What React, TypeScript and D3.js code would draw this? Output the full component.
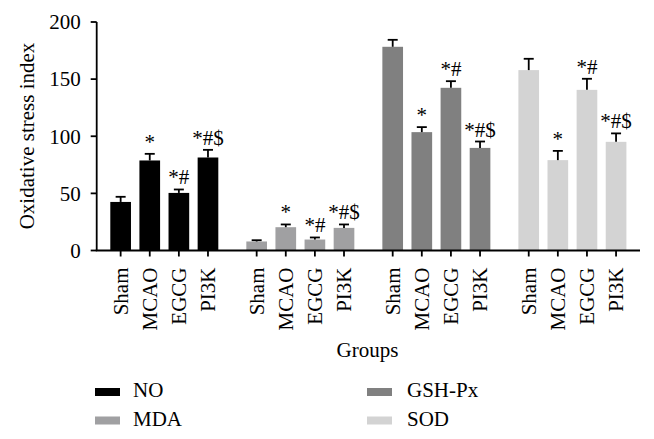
import React from "react";
import * as d3 from "d3";

const groups = ["NO", "MDA", "GSH-Px", "SOD"];
const treatments = ["Sham", "MCAO", "EGCG", "PI3K"];
const colors = ["#000000", "#a0a0a2", "#808080", "#d3d3d3"];
const meanNO = [42.5, 78.8, 50.4, 81.4];
const errNO = [47, 84.6, 53.4, 88.1];
const meanMDA = [7.9, 20.4, 9.6, 19.8];
const errMDA = [9, 22.8, 11.4, 22.8];
const meanGSH = [178.3, 103.6, 142.4, 89.8];
const errGSH = [184.4, 108, 148.2, 95.4];
const meanSOD = [157.9, 79.1, 140.6, 95.1];
const errSOD = [167.8, 87.2, 150.3, 102.5];
const marks = ["", "*", "*#", "*#$"];
const yTicks = [0, 50, 100, 150, 200];

const means = [meanNO, meanMDA, meanGSH, meanSOD];
const errs = [errNO, errMDA, errGSH, errSOD];

const W = 654, H = 439;
const FONT = '"Liberation Serif", "DejaVu Serif", serif';
const ts = { fontFamily: FONT };

export default function App() {
  const x0 = 96.7, x1 = 640;
  const y = d3.scaleLinear().domain([0, 200]).range([250.5, 22]);
  const gx = d3.scaleBand().domain(groups).range([x0, x1]).paddingInner(0.206).paddingOuter(0.1);
  const ix = d3.scaleBand().domain(treatments).range([0, gx.bandwidth()]).paddingInner(0.29).paddingOuter(0);
  const bw = ix.bandwidth();
  const capW = 10;

  return (
    <svg width={W} height={H} style={{ position: "absolute", left: 0, top: 0, background: "#fff" }}>
      <rect x={0} y={0} width={W} height={H} fill="#fff" />
      {groups.map((g, gi) =>
        treatments.map((t, ti) => {
          const cx = (gx(g) as number) + (ix(t) as number) + bw / 2;
          const v = means[gi][ti];
          const e = errs[gi][ti];
          return (
            <g key={g + t}>
              <rect x={cx - bw / 2} y={y(v)} width={bw} height={y(0) - y(v)} fill={colors[gi]} />
              <line x1={cx} x2={cx} y1={y(v)} y2={y(e)} stroke="#000" strokeWidth={1.8} />
              <line x1={cx - capW / 2} x2={cx + capW / 2} y1={y(e)} y2={y(e)} stroke="#000" strokeWidth={1.8} />
              {marks[ti] && (
                <text x={cx} y={y(e) - 5} textAnchor="middle" fontSize={21} fill="#000" style={ts}>
                  {marks[ti]}
                </text>
              )}
              <line x1={cx} x2={cx} y1={y(0)} y2={y(0) + 6} stroke="#000" strokeWidth={1.8} />
              <text
                transform={`translate(${cx},${y(0) + 17}) rotate(-90)`}
                textAnchor="end"
                dy="0.35em"
                fontSize={21}
                fill="#000"
                style={ts}
              >
                {t}
              </text>
            </g>
          );
        })
      )}
      <line x1={x0} x2={x0} y1={y(200)} y2={y(0)} stroke="#000" strokeWidth={1.8} />
      <line x1={x0 - 0.9} x2={x1} y1={y(0)} y2={y(0)} stroke="#000" strokeWidth={1.8} />
      {yTicks.map((t) => (
        <g key={t}>
          <line x1={x0 - 6} x2={x0} y1={y(t)} y2={y(t)} stroke="#000" strokeWidth={1.8} />
          <text x={x0 - 16} y={y(t)} dy="0.35em" textAnchor="end" fontSize={21} fill="#000" style={ts}>
            {t}
          </text>
        </g>
      ))}
      <text transform={`translate(27,136) rotate(-90)`} textAnchor="middle" dy="0.35em" fontSize={21} fill="#000" style={ts}>
        Oxidative stress index
      </text>
      <text x={367.5} y={357} textAnchor="middle" fontSize={21} fill="#000" style={ts}>
        Groups
      </text>
      {groups.map((g, i) => {
        const col = i < 2 ? 0 : 1;
        const row = i % 2;
        const sx = col === 0 ? 95 : 367;
        const tx = col === 0 ? 133 : 407;
        const sy = 388 + row * 28.5;
        return (
          <g key={g}>
            <rect x={sx} y={sy} width={25} height={8} fill={colors[i]} />
            <text x={tx} y={sy + 9} fontSize={21} fill="#000" style={ts}>
              {g}
            </text>
          </g>
        );
      })}
    </svg>
  );
}
